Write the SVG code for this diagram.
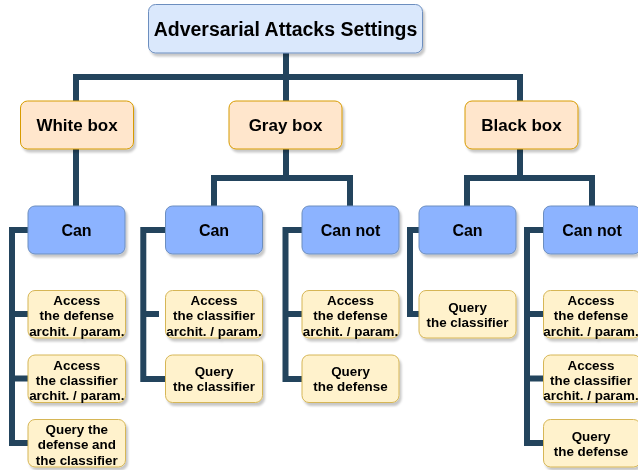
<svg xmlns="http://www.w3.org/2000/svg" width="638" height="470" viewBox="0 0 638 470">
<style>
text{font-family:"Liberation Sans",Arial,sans-serif;font-weight:bold;fill:#000;text-anchor:middle}
.root{fill:#dae8fc;stroke:#6c8ebf;stroke-width:1}
.lvl2{fill:#ffe6cc;stroke:#d79b00;stroke-width:1}
.can{fill:#8cb3ff;stroke:#6c8ebf;stroke-width:1}
.leaf{fill:#fff2cc;stroke:#d6b656;stroke-width:1}
.t20{font-size:19.5px}
.t17{font-size:17px}
.t16{font-size:16px}
.t13{font-size:13.4px}
#connectors path{fill:none;stroke:#23445d;stroke-width:6;stroke-linejoin:miter;stroke-linecap:butt}
</style>
<defs>
<filter id="sh" x="-10%" y="-10%" width="130%" height="140%">
<feDropShadow dx="2" dy="3" stdDeviation="1" flood-color="#000" flood-opacity="0.22"/>
</filter>
</defs>
<rect width="638" height="470" fill="#fff"/>
<g id="connectors">
<path d="M286 53V77M76 101V77H520V101M286 77V101"/>
<path d="M76 149V206"/>
<path d="M286 149V178M214 206V178H350V206"/>
<path d="M520 149V178M467 206V178H592V206"/>
<path d="M28 230H12V443H28M12 314H28M12 378.5H28"/>
<path d="M165.5 230H143.3V379H165.5M143.3 314H159"/>
<path d="M302 230H285.5V379H302M285.5 314H302"/>
<path d="M419 230H410V314H419"/>
<path d="M543.5 230H527V443H543.5M527 314H543.5M527 378.5H543.5"/>
</g>
<g id="root" filter="url(#sh)"><rect class="root" x="148.5" y="4.5" width="274" height="48.5" rx="7"/><text class="t20" x="285.5" y="35.8">Adversarial Attacks Settings</text></g>
<g id="white" filter="url(#sh)"><rect class="lvl2" x="20.5" y="101" width="113" height="48" rx="7"/><text class="t17" x="77" y="131">White box</text></g>
<g id="gray" filter="url(#sh)"><rect class="lvl2" x="229" y="101" width="113" height="48" rx="7"/><text class="t17" x="285.5" y="131">Gray box</text></g>
<g id="black" filter="url(#sh)"><rect class="lvl2" x="465" y="101" width="113" height="48" rx="7"/><text class="t17" x="521.5" y="131">Black box</text></g>
<g id="wb-can" filter="url(#sh)"><rect class="can" x="28" y="206" width="97" height="48" rx="7"/><text class="t16" x="76.5" y="235.7">Can</text></g>
<g id="gb-can" filter="url(#sh)"><rect class="can" x="165.5" y="206" width="97" height="48" rx="7"/><text class="t16" x="214" y="235.7">Can</text></g>
<g id="gb-cannot" filter="url(#sh)"><rect class="can" x="302" y="206" width="97" height="48" rx="7"/><text class="t16" x="350.5" y="235.7">Can not</text></g>
<g id="bb-can" filter="url(#sh)"><rect class="can" x="419" y="206" width="97" height="48" rx="7"/><text class="t16" x="467.5" y="235.7">Can</text></g>
<g id="bb-cannot" filter="url(#sh)"><rect class="can" x="543.5" y="206" width="97" height="48" rx="7"/><text class="t16" x="592" y="235.7">Can not</text></g>
<g id="wb-l1" filter="url(#sh)"><rect class="leaf" x="28" y="290.5" width="97.5" height="47.5" rx="7"/><text class="t13"><tspan x="76.8" y="305">Access</tspan><tspan x="76.8" y="320.3">the defense</tspan><tspan x="76.8" y="335.6">archit. / param.</tspan></text></g>
<g id="wb-l2" filter="url(#sh)"><rect class="leaf" x="28" y="355" width="97.5" height="47.5" rx="7"/><text class="t13"><tspan x="76.8" y="369.5">Access</tspan><tspan x="76.8" y="384.8">the classifier</tspan><tspan x="76.8" y="400.1">archit. / param.</tspan></text></g>
<g id="wb-l3" filter="url(#sh)"><rect class="leaf" x="28" y="419.5" width="97.5" height="47.5" rx="7"/><text class="t13"><tspan x="76.8" y="434">Query the</tspan><tspan x="76.8" y="449.3">defense and</tspan><tspan x="76.8" y="464.6">the classifier</tspan></text></g>
<g id="gb-c-l1" filter="url(#sh)"><rect class="leaf" x="165.5" y="290.5" width="97" height="47.5" rx="7"/><text class="t13"><tspan x="214" y="305">Access</tspan><tspan x="214" y="320.3">the classifier</tspan><tspan x="214" y="335.6">archit. / param.</tspan></text></g>
<g id="gb-c-l2" filter="url(#sh)"><rect class="leaf" x="165.5" y="355" width="97" height="47.5" rx="7"/><text class="t13"><tspan x="214" y="376">Query</tspan><tspan x="214" y="391.3">the classifier</tspan></text></g>
<g id="gb-n-l1" filter="url(#sh)"><rect class="leaf" x="302" y="290.5" width="97" height="47.5" rx="7"/><text class="t13"><tspan x="350.5" y="305">Access</tspan><tspan x="350.5" y="320.3">the defense</tspan><tspan x="350.5" y="335.6">archit. / param.</tspan></text></g>
<g id="gb-n-l2" filter="url(#sh)"><rect class="leaf" x="302" y="355" width="97" height="47.5" rx="7"/><text class="t13"><tspan x="350.5" y="376">Query</tspan><tspan x="350.5" y="391.3">the defense</tspan></text></g>
<g id="bb-c-l1" filter="url(#sh)"><rect class="leaf" x="419" y="290.5" width="97" height="47.5" rx="7"/><text class="t13"><tspan x="467.5" y="311.5">Query</tspan><tspan x="467.5" y="326.8">the classifier</tspan></text></g>
<g id="bb-n-l1" filter="url(#sh)"><rect class="leaf" x="543.5" y="290.5" width="97" height="47.5" rx="7"/><text class="t13"><tspan x="591" y="305">Access</tspan><tspan x="591" y="320.3">the defense</tspan><tspan x="591" y="335.6">archit. / param.</tspan></text></g>
<g id="bb-n-l2" filter="url(#sh)"><rect class="leaf" x="543.5" y="355" width="97" height="47.5" rx="7"/><text class="t13"><tspan x="591" y="369.5">Access</tspan><tspan x="591" y="384.8">the classifier</tspan><tspan x="591" y="400.1">archit. / param.</tspan></text></g>
<g id="bb-n-l3" filter="url(#sh)"><rect class="leaf" x="543.5" y="419.5" width="97" height="47.5" rx="7"/><text class="t13"><tspan x="591" y="440.5">Query</tspan><tspan x="591" y="455.8">the defense</tspan></text></g>
</svg>
